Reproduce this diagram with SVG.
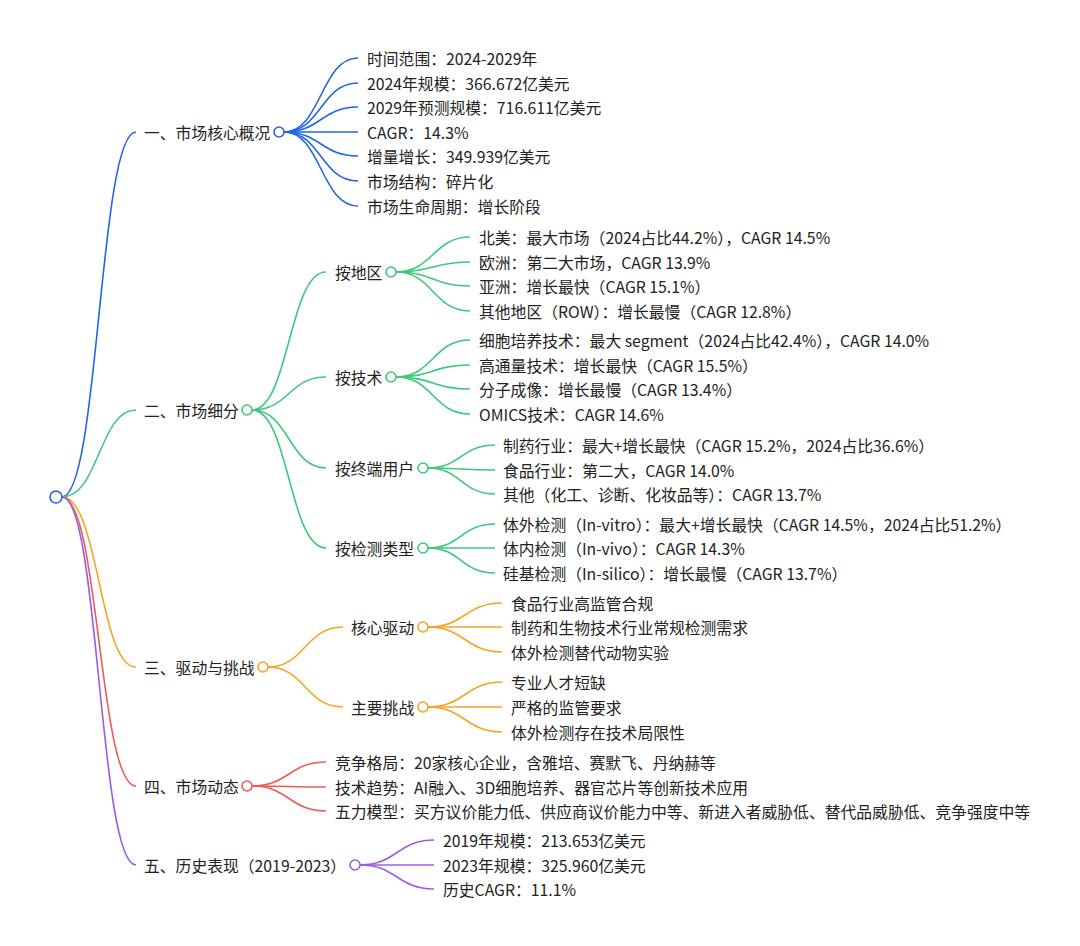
<svg xmlns="http://www.w3.org/2000/svg" width="1080" height="946" viewBox="0 0 1080 946">
<style>
text{font-family:"Noto Sans CJK SC","Noto Sans",sans-serif;font-size:15.8px;fill:#222;dominant-baseline:central}
path{fill:none;stroke-width:1.6}
circle{fill:#fff;stroke-width:1.6}
.b{stroke:#2266e3}.g{stroke:#3dc97a}.o{stroke:#f5a524}.r{stroke:#ec5a55}.p{stroke:#9b5ce4}
</style>
<rect width="1080" height="946" fill="#fff"/>
<g id="connectors">
<path class="b" d="M62,497 C99,497 99,132 136,132"/>
<path class="g" d="M62,497 C99,497 99,410 136,410"/>
<path class="o" d="M62,497 C99,497 99,667 136,667"/>
<path class="r" d="M62,497 C99,497 99,786 136,786"/>
<path class="p" d="M62,497 C99,497 99,865 136,865"/>
<path class="b" d="M284,132 C321,132 321,58 358,58"/>
<path class="b" d="M284,132 C321,132 321,83 358,83"/>
<path class="b" d="M284,132 C321,132 321,107 358,107"/>
<path class="b" d="M284,132 C321,132 321,132 358,132"/>
<path class="b" d="M284,132 C321,132 321,156 358,156"/>
<path class="b" d="M284,132 C321,132 321,181 358,181"/>
<path class="b" d="M284,132 C321,132 321,206 358,206"/>
<path class="g" d="M252,410 C289,410 289,272 326,272"/>
<path class="g" d="M252,410 C289,410 289,377 326,377"/>
<path class="g" d="M252,410 C289,410 289,468 326,468"/>
<path class="g" d="M252,410 C289,410 289,548 326,548"/>
<path class="g" d="M396,272 C433,272 433,237 470,237"/>
<path class="g" d="M396,272 C433,272 433,262 470,262"/>
<path class="g" d="M396,272 C433,272 433,286 470,286"/>
<path class="g" d="M396,272 C433,272 433,311 470,311"/>
<path class="g" d="M396,377 C433,377 433,340 470,340"/>
<path class="g" d="M396,377 C433,377 433,365 470,365"/>
<path class="g" d="M396,377 C433,377 433,389 470,389"/>
<path class="g" d="M396,377 C433,377 433,414 470,414"/>
<path class="g" d="M428,468 C461,468 461,445 495,445"/>
<path class="g" d="M428,468 C461,468 461,470 495,470"/>
<path class="g" d="M428,468 C461,468 461,494 495,494"/>
<path class="g" d="M428,548 C461,548 461,524 495,524"/>
<path class="g" d="M428,548 C461,548 461,548 495,548"/>
<path class="g" d="M428,548 C461,548 461,573 495,573"/>
<path class="o" d="M268,667 C305,667 305,627 343,627"/>
<path class="o" d="M268,667 C305,667 305,707 343,707"/>
<path class="o" d="M428,627 C465,627 465,603 502,603"/>
<path class="o" d="M428,627 C465,627 465,627 502,627"/>
<path class="o" d="M428,627 C465,627 465,652 502,652"/>
<path class="o" d="M428,707 C465,707 465,682 502,682"/>
<path class="o" d="M428,707 C465,707 465,707 502,707"/>
<path class="o" d="M428,707 C465,707 465,732 502,732"/>
<path class="r" d="M252,786 C289,786 289,762 326,762"/>
<path class="r" d="M252,786 C289,786 289,787 326,787"/>
<path class="r" d="M252,786 C289,786 289,811 326,811"/>
<path class="p" d="M360,865 C397,865 397,840 434,840"/>
<path class="p" d="M360,865 C397,865 397,865 434,865"/>
<path class="p" d="M360,865 C397,865 397,889 434,889"/>
</g>
<g id="root"><circle class="b" cx="56" cy="497" r="6"/></g>
<g id="n1">
<text x="144" y="132">一、市场核心概况</text><circle class="b" cx="279" cy="132" r="5"/>
<text x="367" y="58">时间范围：2024-2029年</text>
<text x="367" y="83">2024年规模：366.672亿美元</text>
<text x="367" y="107">2029年预测规模：716.611亿美元</text>
<text x="367" y="132">CAGR：14.3%</text>
<text x="367" y="156">增量增长：349.939亿美元</text>
<text x="367" y="181">市场结构：碎片化</text>
<text x="367" y="206">市场生命周期：增长阶段</text>
</g>
<g id="n2">
<text x="144" y="410">二、市场细分</text><circle class="g" cx="247" cy="410" r="5"/>
<g id="n2-1">
<text x="335" y="272">按地区</text><circle class="g" cx="391" cy="272" r="5"/>
<text x="479" y="237">北美：最大市场（2024占比44.2%），CAGR 14.5%</text>
<text x="479" y="262">欧洲：第二大市场，CAGR 13.9%</text>
<text x="479" y="286">亚洲：增长最快（CAGR 15.1%）</text>
<text x="479" y="311">其他地区（ROW）：增长最慢（CAGR 12.8%）</text>
</g>
<g id="n2-2">
<text x="335" y="377">按技术</text><circle class="g" cx="391" cy="377" r="5"/>
<text x="479" y="340">细胞培养技术：最大 segment（2024占比42.4%），CAGR 14.0%</text>
<text x="479" y="365">高通量技术：增长最快（CAGR 15.5%）</text>
<text x="479" y="389">分子成像：增长最慢（CAGR 13.4%）</text>
<text x="479" y="414">OMICS技术：CAGR 14.6%</text>
</g>
<g id="n2-3">
<text x="335" y="468">按终端用户</text><circle class="g" cx="423" cy="468" r="5"/>
<text x="503" y="445">制药行业：最大+增长最快（CAGR 15.2%，2024占比36.6%）</text>
<text x="503" y="470">食品行业：第二大，CAGR 14.0%</text>
<text x="503" y="494">其他（化工、诊断、化妆品等）：CAGR 13.7%</text>
</g>
<g id="n2-4">
<text x="335" y="548">按检测类型</text><circle class="g" cx="423" cy="548" r="5"/>
<text x="503" y="524">体外检测（In-vitro）：最大+增长最快（CAGR 14.5%，2024占比51.2%）</text>
<text x="503" y="548">体内检测（In-vivo）：CAGR 14.3%</text>
<text x="503" y="573">硅基检测（In-silico）：增长最慢（CAGR 13.7%）</text>
</g>
</g>
<g id="n3">
<text x="144" y="667">三、驱动与挑战</text><circle class="o" cx="263" cy="667" r="5"/>
<g id="n3-1">
<text x="351" y="627">核心驱动</text><circle class="o" cx="423" cy="627" r="5"/>
<text x="511" y="603">食品行业高监管合规</text>
<text x="511" y="627">制药和生物技术行业常规检测需求</text>
<text x="511" y="652">体外检测替代动物实验</text>
</g>
<g id="n3-2">
<text x="351" y="707">主要挑战</text><circle class="o" cx="423" cy="707" r="5"/>
<text x="511" y="682">专业人才短缺</text>
<text x="511" y="707">严格的监管要求</text>
<text x="511" y="732">体外检测存在技术局限性</text>
</g>
</g>
<g id="n4">
<text x="144" y="786">四、市场动态</text><circle class="r" cx="247" cy="786" r="5"/>
<text x="335" y="762">竞争格局：20家核心企业，含雅培、赛默飞、丹纳赫等</text>
<text x="335" y="787">技术趋势：AI融入、3D细胞培养、器官芯片等创新技术应用</text>
<text x="335" y="811">五力模型：买方议价能力低、供应商议价能力中等、新进入者威胁低、替代品威胁低、竞争强度中等</text>
</g>
<g id="n5">
<text x="144" y="865">五、历史表现（2019-2023）</text><circle class="p" cx="355" cy="865" r="5"/>
<text x="443" y="840">2019年规模：213.653亿美元</text>
<text x="443" y="865">2023年规模：325.960亿美元</text>
<text x="443" y="889">历史CAGR：11.1%</text>
</g>
</svg>
